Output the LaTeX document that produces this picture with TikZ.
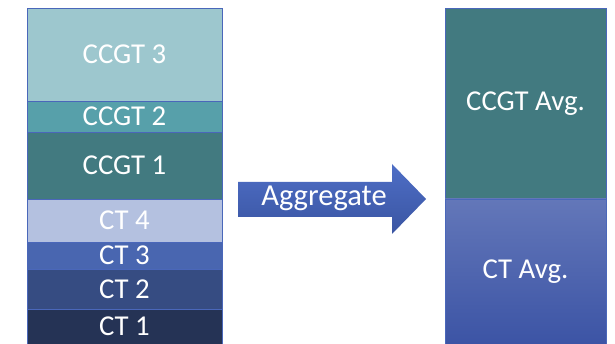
\documentclass[tikz,border=0pt]{standalone}
\usepackage{fontspec}
\setmainfont{Carlito}
\definecolor{bordc}{HTML}{4A67BA}
\definecolor{cA}{HTML}{9DC7CE}
\definecolor{cB}{HTML}{57A0AA}
\definecolor{cC}{HTML}{427A80}
\definecolor{cD}{HTML}{B4C1E0}
\definecolor{cE}{HTML}{4966B0}
\definecolor{cF}{HTML}{364C82}
\definecolor{cG}{HTML}{253355}
\definecolor{gTop}{HTML}{6377B9}
\definecolor{gBot}{HTML}{3C54A5}
\definecolor{aTop}{HTML}{4E6EC6}
\definecolor{aBot}{HTML}{3A55A2}
\begin{document}
\begin{tikzpicture}[x=1pt,y=-1pt,
  block/.style={draw=bordc,line width=0.8pt,inner sep=0pt,outer sep=0pt,
    text=white,font=\fontsize{28.8}{31}\selectfont},
  lblock/.style={block,minimum width=195pt},
  rblock/.style={block,minimum width=161pt}]
\useasboundingbox (0,0) rectangle (615,344);
\node[lblock,fill=cA,minimum height=93pt] (ccgt3) at (124.5,54.5) {CCGT 3};
\node[lblock,fill=cB,minimum height=31pt] (ccgt2) at (124.5,116.5) {CCGT 2};
\node[lblock,fill=cC,minimum height=67pt] (ccgt1) at (124.5,165.5) {CCGT 1};
\node[lblock,fill=cD,minimum height=43pt] (ct4) at (124.5,220.5) {CT 4};
\node[lblock,fill=cE,minimum height=27pt] (ct3) at (124.5,255.5) {CT 3};
\node[lblock,fill=cF,minimum height=40pt] (ct2) at (124.5,289) {CT 2};
\node[lblock,fill=cG,minimum height=35pt] (ct1) at (124.5,326.5) {CT 1};
\node[rblock,fill=cC,minimum height=191pt] (ccgtavg) at (525.5,103.5) {CCGT Avg.};
\node[rblock,top color=gTop,bottom color=gBot,minimum height=145pt] (ctavg) at (525.5,271.5) {CT Avg.};
\shade[top color=aTop,bottom color=aBot] (238,182) -- (392,182) -- (392,164) -- (426,199) -- (392,234) -- (392,217) -- (238,217) -- cycle;
\node[text=white,font=\fontsize{30.5}{33}\selectfont] (agg) at (324,198) {Aggregate};
\end{tikzpicture}
\end{document}
